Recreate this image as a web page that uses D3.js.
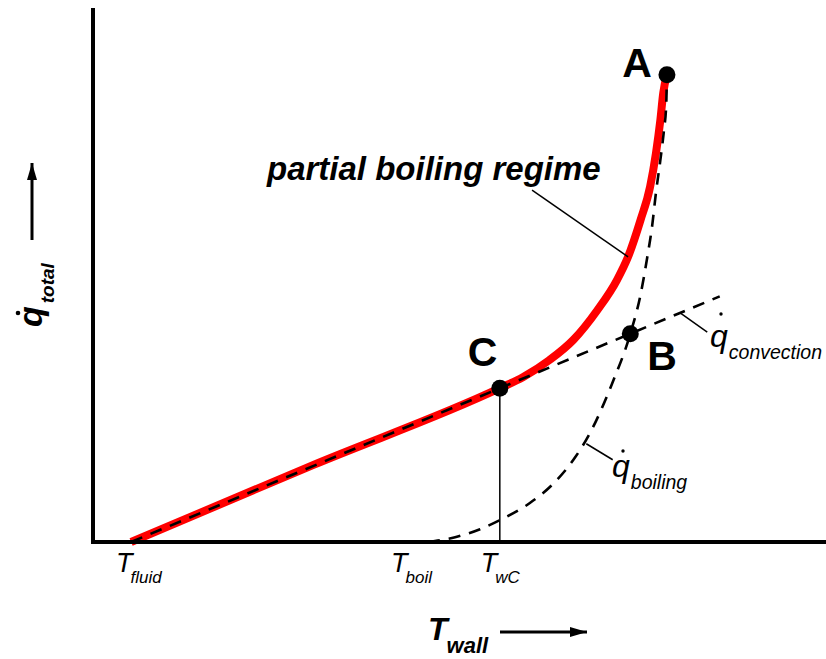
<!DOCTYPE html>
<html>
<head>
<meta charset="utf-8">
<script src="https://cdn.jsdelivr.net/npm/d3@7"></script>
<style>
  body { margin: 0; background: #fff; }
  svg { display: block; }
  text { font-family: "Liberation Sans", Arial, Helvetica, sans-serif; fill: #000; }
</style>
</head>
<body>
<svg id="chart" width="826" height="659"></svg>
<script>
// Wall temperature and heat flux, both in arbitrary units (0–100)
const convectionT = [5.2, 55.5, 73.3, 85.5];
const convectionQ = [0, 28.8, 39.0, 46.0];

const boilingT = [45.7, 49.4, 52.8, 55.5, 59.6, 63.0, 65.8, 67.8, 70.8, 73.3, 74.7, 75.6, 76.3, 76.8, 77.4, 77.9, 78.2, 78.3];
const boilingQ = [0, 0.9, 2.4, 4.1, 7.3, 11.2, 15.9, 20.4, 29.6, 39.0, 46.3, 53.2, 59.4, 65.4, 71.5, 77.2, 81.8, 87.5];

const totalT = [5.2, 30.0, 55.5, 58.7, 62.3, 65.5, 68.8, 71.5, 73.0, 74.7, 76.0, 76.8, 77.4, 77.8, 78.3];
const totalQ = [0, 14.4, 28.8, 30.9, 34.1, 37.8, 43.4, 49.1, 53.4, 60.3, 66.5, 72.8, 79.0, 84.1, 87.5];

const pointNames = ["A", "B", "C"];
const pointT = [78.3, 73.3, 55.5];
const pointQ = [87.5, 39.0, 28.8];

const tickSubs = ["fluid", "boil", "wC"];
const tickT = [5.2, 45.7, 55.5];

const svg = d3.select("#chart");
const x = d3.scaleLinear().domain([0, 100]).range([93, 826]);
const y = d3.scaleLinear().domain([0, 100]).range([542, 8]);

const line = d3.line().x(d => x(d[0])).y(d => y(d[1]));
const zip = (a, b) => a.map((v, i) => [v, b[i]]);

// total heat flux (red)
svg.append("path")
  .attr("d", line.curve(d3.curveMonotoneX)(zip(totalT, totalQ)))
  .attr("fill", "none").attr("stroke", "#ff0000").attr("stroke-width", 8);

// vertical marker at T_wC
svg.append("line")
  .attr("x1", x(pointT[2])).attr("x2", x(pointT[2]))
  .attr("y1", y(pointQ[2])).attr("y2", y(0))
  .attr("stroke", "#000").attr("stroke-width", 1.5);

// convection and boiling contributions (dashed)
svg.append("path")
  .attr("d", line.curve(d3.curveLinear)(zip(convectionT, convectionQ)))
  .attr("fill", "none").attr("stroke", "#000").attr("stroke-width", 2.6)
  .attr("stroke-dasharray", "12,9");
svg.append("path")
  .attr("d", line.curve(d3.curveMonotoneX)(zip(boilingT, boilingQ)))
  .attr("fill", "none").attr("stroke", "#000").attr("stroke-width", 2.6)
  .attr("stroke-dasharray", "12,9");

// axes
svg.append("line").attr("x1", x(0)).attr("x2", x(0)).attr("y1", y(100)).attr("y2", y(0) + 2)
  .attr("stroke", "#000").attr("stroke-width", 4);
svg.append("line").attr("x1", x(0)).attr("x2", x(100)).attr("y1", y(0)).attr("y2", y(0))
  .attr("stroke", "#000").attr("stroke-width", 4);

// labelled points
svg.selectAll("circle.pt").data(pointNames).join("circle")
  .attr("class", "pt")
  .attr("cx", (d, i) => x(pointT[i])).attr("cy", (d, i) => y(pointQ[i]))
  .attr("r", 8.5).attr("fill", "#000");
const ptOffset = { A: [-15, 2, "end"], B: [17, 36, "start"], C: [-32, -22, "start"] };
svg.selectAll("text.pt").data(pointNames).join("text")
  .attr("class", "pt")
  .attr("x", (d, i) => x(pointT[i]) + ptOffset[d][0])
  .attr("y", (d, i) => y(pointQ[i]) + ptOffset[d][1])
  .attr("text-anchor", d => ptOffset[d][2])
  .attr("font-size", 41).attr("font-weight", "bold")
  .text(d => d);

// temperature markers on the x axis
const tickDx = { fluid: -15, boil: -37, wC: -19 };
tickSubs.forEach((s, i) => {
  const t = svg.append("text")
    .attr("x", x(tickT[i]) + tickDx[s]).attr("y", 572)
    .attr("font-size", 27).attr("font-style", "italic");
  t.append("tspan").text("T");
  t.append("tspan").attr("dx", -2).attr("dy", 11).attr("font-size", 17).text(s);
});

// leader lines
const leader = (t1, q1, t2, q2) => svg.append("line")
  .attr("x1", x(t1)).attr("y1", y(q1)).attr("x2", x(t2)).attr("y2", y(q2))
  .attr("stroke", "#000").attr("stroke-width", 1.5);
leader(59.9, 65.9, 73.0, 53.4);
leader(80.1, 42.9, 83.8, 39.3);
leader(67.3, 18.4, 70.9, 15.4);

// regime label
svg.append("text")
  .attr("x", 267).attr("y", 180)
  .attr("font-size", 33).attr("font-weight", "bold").attr("font-style", "italic")
  .text("partial boiling regime");

// heat flux component labels (q with dot above)
function qLabel(px, py, sub, dotDy) {
  const t = svg.append("text").attr("x", px).attr("y", py)
    .attr("font-size", 32).attr("font-style", "italic");
  t.append("tspan").text("q");
  t.append("tspan").attr("dx", 1).attr("dy", 12).attr("font-size", 19.5).text(sub);
  svg.append("circle").attr("cx", px + 11).attr("cy", py - dotDy).attr("r", 1.7).attr("fill", "#000");
}
qLabel(710, 347, "convection", 33);
qLabel(612, 477, "boiling", 26);

// arrow helper: shaft plus filled head
function arrow(x1, y1, x2, y2) {
  svg.append("line").attr("x1", x1).attr("y1", y1).attr("x2", x2).attr("y2", y2)
    .attr("stroke", "#000").attr("stroke-width", 3);
  const a = Math.atan2(y2 - y1, x2 - x1), L = 17, W = 5;
  const bx = x2 - L * Math.cos(a), by = y2 - L * Math.sin(a);
  const nx = -Math.sin(a) * W, ny = Math.cos(a) * W;
  svg.append("path")
    .attr("d", `M${x2},${y2} L${bx + nx},${by + ny} L${bx - nx},${by - ny} Z`)
    .attr("fill", "#000");
}

// x axis title with arrow
const xt = svg.append("text").attr("x", 428).attr("y", 640)
  .attr("font-size", 32).attr("font-weight", "bold").attr("font-style", "italic");
xt.append("tspan").text("T");
xt.append("tspan").attr("dx", -1).attr("dy", 13).attr("font-size", 22).text("wall");
arrow(500, 632, 587, 632);

// y axis title with arrow
const yt = svg.append("g").attr("transform", "translate(42,327) rotate(-90)");
const ytt = yt.append("text").attr("x", 0).attr("y", 0)
  .attr("font-size", 34).attr("font-weight", "bold").attr("font-style", "italic");
ytt.append("tspan").text("q");
ytt.append("tspan").attr("dx", 3).attr("dy", 12).attr("font-size", 19).text("total");
svg.append("circle").attr("cx", 18).attr("cy", 313).attr("r", 2.3).attr("fill", "#000");
arrow(32, 240, 32, 163);
</script>
</body>
</html>
